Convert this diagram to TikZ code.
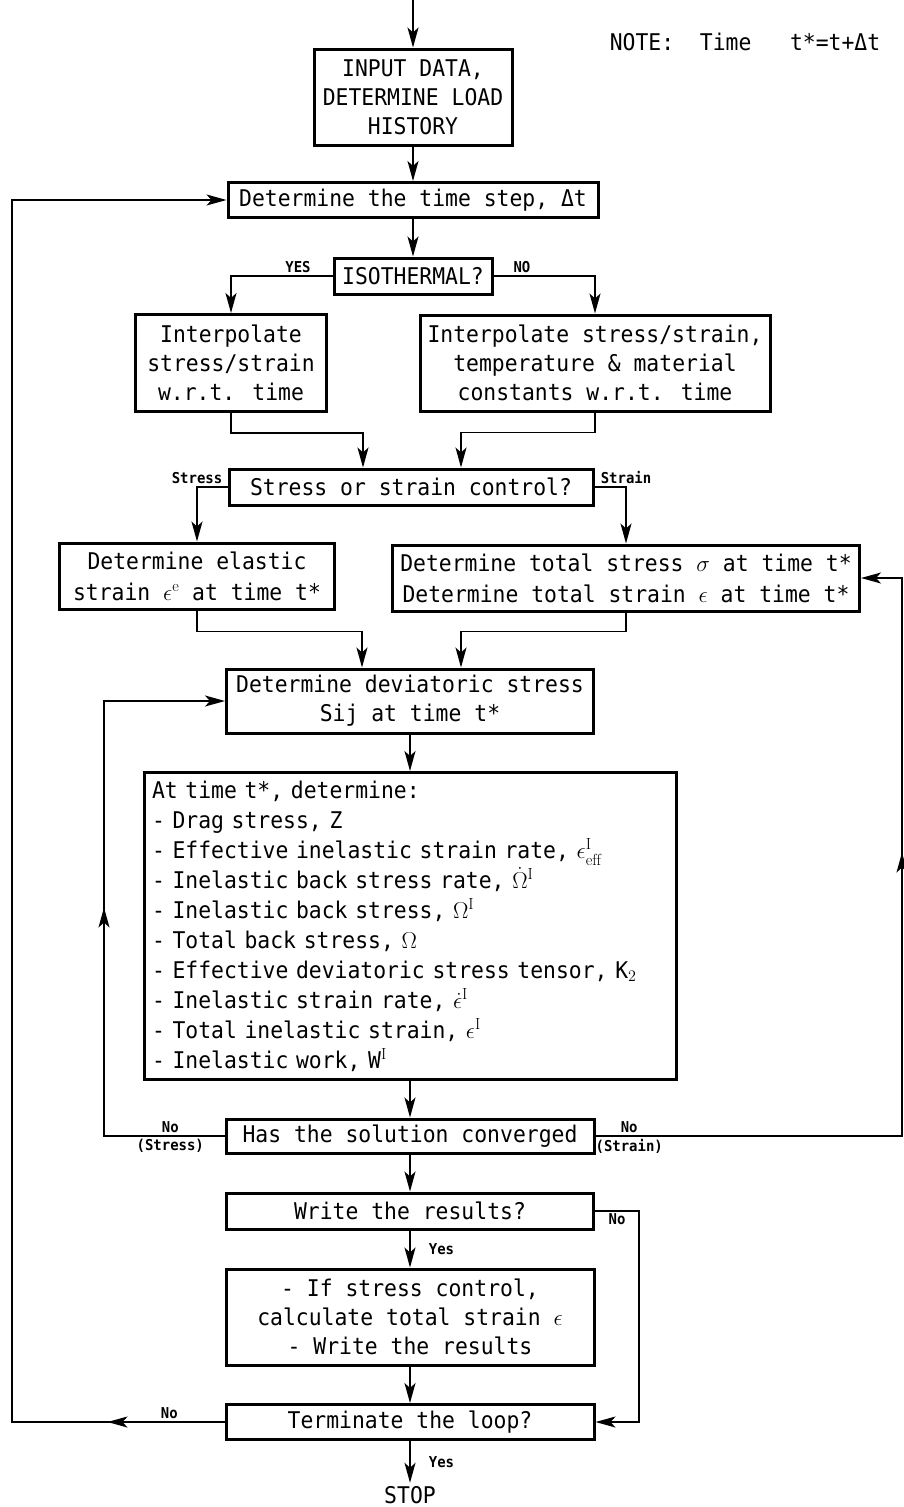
\RequirePackage{fix-cm}
\documentclass[tikz,border=0pt]{standalone}
\usepackage{amsmath}
\usepackage{fontspec}
\newfontfamily\plotfont[FakeStretch=0.93]{DejaVu Sans Mono}
\usepackage{tikz}
\usetikzlibrary{arrows.meta, positioning, decorations.markings}
\tikzstyle{flow} = [draw, -{Stealth[length=20pt,width=11pt,inset=5pt]}, line width=1.8pt]

\begin{document}
\begin{tikzpicture}[x=1pt, y=-1pt,
  box/.style={draw, line width=3pt, align=center, inner sep=4pt, font=\plotfont\fontsize{23}{29}\selectfont},
  lbl/.style={font=\plotfont\bfseries\fontsize{15}{17}\selectfont, inner sep=2pt},
  txt/.style={font=\plotfont\fontsize{23}{29}\selectfont}]

    \tikzset{midtip/.style={postaction={decorate}, decoration={markings, mark=at position #1 with {\arrow{Stealth[length=20pt,width=11pt,inset=5pt]}}}}}

    \useasboundingbox (0,0) rectangle (903,1507);

    \coordinate (start) at (413,0);
    \coordinate (lft) at (12,0);
    \coordinate (inl) at (104,0);
    \coordinate (rgt) at (902,0);

    \node[txt] (note) at (745,42) {NOTE:~ Time~~ t*=t+Δt};

    \node[box, minimum width=198pt, minimum height=96pt] (inp) at (413,97) {INPUT DATA,\\DETERMINE LOAD\\HISTORY};
    \node[box, minimum width=370pt, minimum height=35pt] (dt) at (413,200) {Determine the time step, Δt};
    \node[box, minimum width=158pt, minimum height=36pt] (iso) at (413,276) {ISOTHERMAL?};
    \node[box, minimum width=191pt, minimum height=97pt] (intl) at (231,363) {Interpolate\\stress/strain\\w.r.t. time};
    \node[box, minimum width=350pt, minimum height=96pt] (intr) at (595,363) {Interpolate stress/strain,\\temperature \& material\\constants w.r.t. time};
    \node[box, minimum width=364pt, minimum height=36pt] (ctl) at (411,487) {Stress or strain control?};
    \node[box, minimum width=275pt, minimum height=66pt, font=\plotfont\fontsize{23}{31}\selectfont] (ela) at (197,576) {Determine elastic\\strain $\epsilon^{\mathrm{e}}$ at time t*};
    \node[box, minimum width=467pt, minimum height=66pt, font=\plotfont\fontsize{23}{31}\selectfont] (tot) at (626,578) {Determine total stress $\sigma$ at time t*\\Determine total strain $\epsilon$ at time t*};
    \node[box, minimum width=367pt, minimum height=64pt] (dev) at (410,701) {Determine deviatoric stress\\Sij at time t*};
    \node[box, align=left, text width=516pt, inner xsep=8pt, minimum height=307pt, font=\plotfont\fontsize{23}{30}\selectfont] (det) at (410,926) {At time t*, determine:\\
      - Drag stress, Z\\
      - Effective inelastic strain rate, $\epsilon^{\mathrm{I}}_{\mathrm{eff}}$\\
      - Inelastic back stress rate, $\dot{\Omega}^{\mathrm{I}}$\\
      - Inelastic back stress, $\Omega^{\mathrm{I}}$\\
      - Total back stress, $\Omega$\\
      - Effective deviatoric stress tensor, K$_2$\\
      - Inelastic strain rate, $\dot{\epsilon}^{\mathrm{I}}$\\
      - Total inelastic strain, $\epsilon^{\mathrm{I}}$\\
      - Inelastic work, W$^{\mathrm{I}}$};
    \node[box, minimum width=368pt, minimum height=34pt] (conv) at (410,1136) {Has the solution converged};
    \node[box, minimum width=367pt, minimum height=36pt] (wr) at (410,1211) {Write the results?};
    \node[box, minimum width=368pt, minimum height=96pt] (act) at (410,1317) {- If stress control,\\calculate total strain $\epsilon$\\- Write the results};
    \node[box, minimum width=368pt, minimum height=35pt] (term) at (410,1422) {Terminate the loop?};
    \node[txt] (stop) at (410,1495) {STOP};

    \draw[flow] (start) -- (inp);
    \draw[flow] (inp) -- (dt);
    \draw[flow] (dt) -- (iso);
    \draw[flow] (iso.west) -| node[lbl, above, pos=0.17] {YES} (intl.north);
    \draw[flow] (iso.east) -| node[lbl, above, pos=0.14] {NO} (intr.north);
    \draw[flow] (intl.south) -- ++(0,20) -| ([xshift=-48pt]ctl.north);
    \draw[flow] (intr.south) -- ++(0,20) -| ([xshift=50pt]ctl.north);
    \draw[flow] (ctl.west) -| node[lbl, above] {Stress} (ela.north);
    \draw[flow] (ctl.east) -| node[lbl, above] {Strain} (tot.north);
    \draw[flow] (ela.south) -- ++(0,21) -| ([xshift=-48pt]dev.north);
    \draw[flow] (tot.south) -- ++(0,19) -| ([xshift=51pt]dev.north);
    \draw[flow] (dev) -- (det);
    \draw[flow] (det) -- (conv);

    % loops back from the convergence check
    \draw[flow, midtip=349pt] (conv.west) -- node[lbl, above, pos=0.45] {No} node[lbl, below, pos=0.45] {(Stress)} (conv.west -| inl) |- (dev.west);
    \draw[flow, midtip=590pt] (conv.east) -- node[lbl, above, pos=0.11] {No} node[lbl, below, pos=0.11] {(Strain)} (conv.east -| rgt) |- (tot.east);

    \draw[flow] (conv) -- (wr);
    \draw[flow] (wr) -- node[lbl, right=16pt] {Yes} (act);
    \draw[flow] (wr.east) -- node[lbl, below] {No} ++(44,0) |- (term.east);
    \draw[flow] (act) -- (term);
    \draw[flow, midtip=117pt] (term.west) -- node[lbl, above, pos=0.26] {No} (term.west -| lft) |- (dt.west);
    \draw[flow] (term) -- node[lbl, right=16pt] {Yes} (stop);

\end{tikzpicture}
\end{document}
